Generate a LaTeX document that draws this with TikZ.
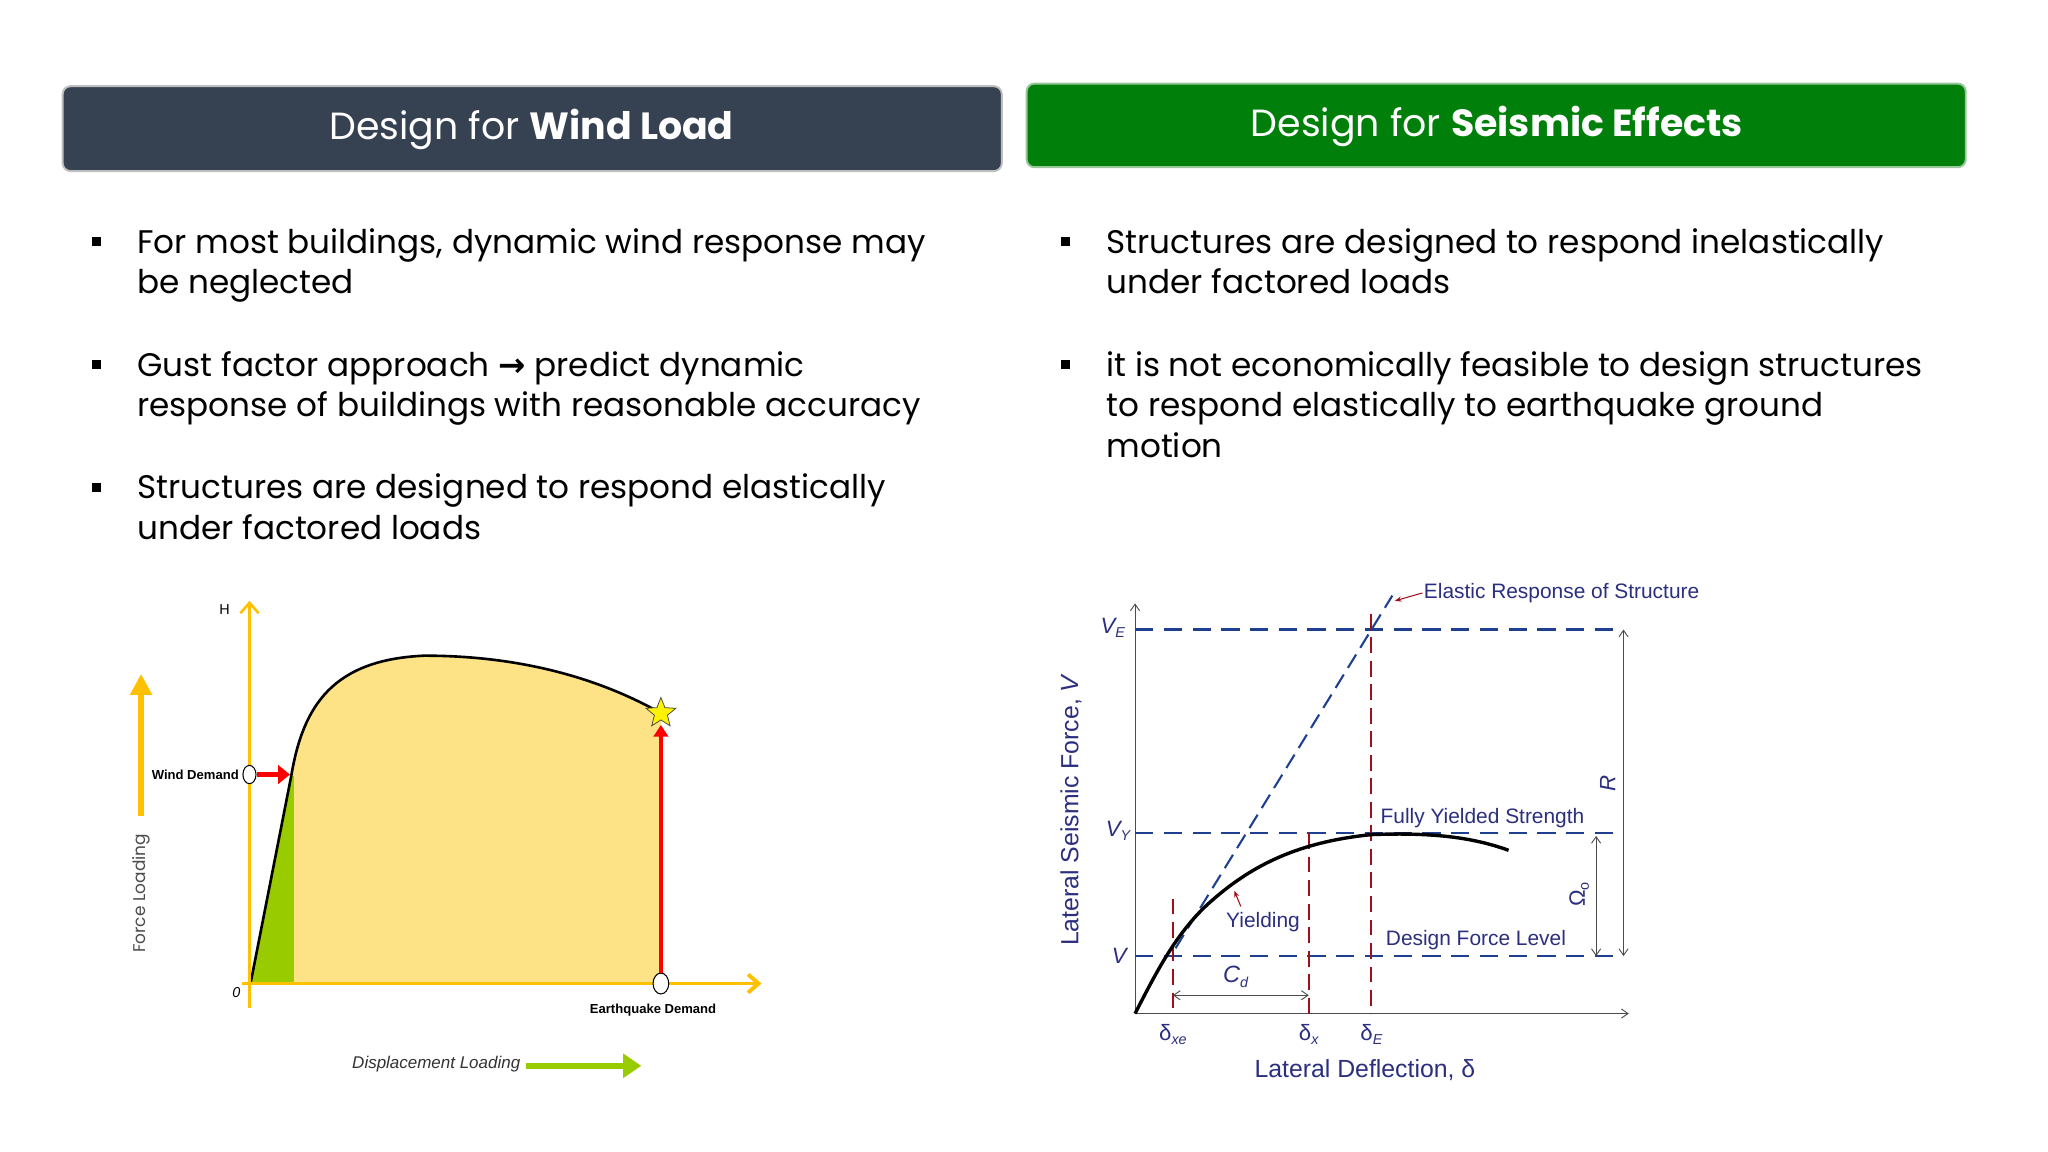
\documentclass[tikz,border=0pt]{standalone}
\usepackage{fontspec}
\setmainfont{Poppins}
\newfontfamily\arial{Liberation Sans}
\newfontfamily\djv{DejaVu Sans}
\usetikzlibrary{arrows.meta,shapes.geometric}
\definecolor{hdark}{HTML}{364152}
\definecolor{hgreen}{HTML}{00800A}
\definecolor{navy}{HTML}{2B2F7E}
\definecolor{dblue}{HTML}{1F3F8F}
\definecolor{dred}{HTML}{A0101A}
\definecolor{wyel}{HTML}{FDE286}
\definecolor{axyel}{HTML}{FFC000}
\definecolor{lgreen}{HTML}{99CC00}
\newcommand{\sbs}[1]{\raisebox{-0.35ex}{\fontsize{11}{12}\selectfont #1}}
\tikzset{
 hdr/.style={rounded corners=6pt,line width=1.5pt},
 btxt/.style={anchor=base west,inner sep=0pt,font=\fontsize{25}{30}\selectfont},
 bsq/.style={fill=black,minimum size=7pt,inner sep=0pt},
 vdash/.style={dblue,line width=1.8pt,dash pattern=on 14pt off 8pt},
 rdash/.style={dred,line width=1.5pt,dash pattern=on 12pt off 6pt},
 lab/.style={navy,font=\arial\fontsize{16}{18}\selectfont,inner sep=1pt},
 thin/.style={black!70,line width=0.7pt},
 small/.style={font=\arial\bfseries\fontsize{10}{12}\selectfont,inner sep=1pt}
}
\begin{document}
\begin{tikzpicture}[x=1pt,y=-1pt]
\useasboundingbox[fill=white] (0,0) rectangle (1568,882);
% headers
\draw[hdr,fill=hdark,draw=black!25] (48,66) rectangle (767,131);
\node[white,font=\fontsize{29}{36}\selectfont] (h1) at (407,99) {Design for \textbf{Wind Load}};
\draw[hdr,fill=hgreen,draw=green!45!black!40] (786,64) rectangle (1505,128);
\node[white,font=\fontsize{29}{36}\selectfont] (h2) at (1146,97) {Design for \textbf{Seismic Effects}};
% left bullets
\foreach \y in {185,279,373} \node[bsq] at (74,\y) {};
\node[btxt] at (105,194) {For most buildings, dynamic wind response may};
\node[btxt] at (105,225) {be neglected};
\node[btxt] at (105,288) {Gust factor approach {\djv\bfseries →} predict dynamic};
\node[btxt] at (105,319) {response of buildings with reasonable accuracy};
\node[btxt] at (105,382) {Structures are designed to respond elastically};
\node[btxt] at (105,413) {under factored loads};
% right bullets
\foreach \y in {185,279} \node[bsq] at (816,\y) {};
\node[btxt] at (847,194) {Structures are designed to respond inelastically};
\node[btxt] at (847,225) {under factored loads};
\node[btxt] at (847,288) {it is not economically feasible to design structures};
\node[btxt] at (847,319) {to respond elastically to earthquake ground};
\node[btxt] at (847,350) {motion};
% ---- left chart
\fill[wyel] (192,752) -- (223,594) .. controls (232,540) and (255,505) .. (325,502)
  .. controls (400,502) and (460,520) .. (506,546) -- (506,753) -- cycle;
\fill[lgreen] (192,752) -- (223,594) -- (225,594) -- (225,752) -- cycle;
\draw[black,line width=2pt] (192,752) -- (223,594) .. controls (232,540) and (255,505) .. (325,502)
  .. controls (400,502) and (460,520) .. (506,546);
\draw[axyel,line width=2pt,-{Straight Barb[length=8pt,width=14pt]}] (191,772) -- (191,460);
\draw[axyel,line width=3pt,-{Straight Barb[length=8pt,width=14pt]}] (185,753) -- (583,753);
\node[small,font=\arial\fontsize{11}{12}\selectfont] (H) at (172,467) {H};
\node[small,font=\arial\itshape\fontsize{11}{12}\selectfont] (zero) at (181,760) {0};
\node[draw=black,fill=white,ellipse,minimum width=10pt,minimum height=14pt,inner sep=0pt,line width=0.8pt] (wd) at (191,593) {};
\node[small,anchor=east] (wdl) at (184,593) {Wind Demand};
\coordinate (wdt) at (222,593);
\draw[red,line width=4pt,-{Triangle[length=9pt,width=14pt]}] (wd.east) -- (wdt);
\node[draw=black,fill=white,ellipse,minimum width=12pt,minimum height=16pt,inner sep=0pt,line width=0.8pt] (eq) at (506,753) {};
\node[small] (eql) at (500,773) {Earthquake Demand};
\node[star,star points=5,star point ratio=2.3,fill=yellow,draw=black!70,line width=0.6pt,minimum size=24pt,inner sep=0pt] (st) at (506,546) {};
\draw[red,line width=2.5pt,-{Triangle[length=9pt,width=11pt]}] (eq.north) -- (506,555);
\draw[axyel,line width=5pt,-{Triangle[length=16pt,width=16pt]}] (108,625) -- (108,516);
\node[black!70,rotate=90,font=\fontsize{13}{14}\selectfont] (fl) at (108,684) {Force Loading};
\node[black!80,font=\arial\itshape\fontsize{13}{15}\selectfont] (dl) at (334,815) {Displacement Loading};
\draw[lgreen,line width=5pt,-{Triangle[length=14pt,width=18pt]}] (403,816) -- (491,816);
% ---- right chart
\draw[thin,-{Straight Barb[length=5pt,width=7pt]}] (869,776) -- (869,462);
\draw[thin,-{Straight Barb[length=5pt,width=7pt]}] (869,776) -- (1247,776);
\draw[vdash] (869,482) -- (1242,482);
\draw[vdash] (869,638) -- (1242,638);
\draw[vdash] (869,732) -- (1242,732);
\draw[rdash] (898,688) -- (898,776);
\draw[rdash] (1002,638) -- (1002,776);
\draw[rdash] (1050,470) -- (1050,776);
\draw[dblue,line width=1.6pt,dash pattern=on 12pt off 6pt] (900,726) -- (1066,456);
\draw[black,line width=2.6pt] (869,776) .. controls (885,745) and (900,715) .. (925,692)
  .. controls (955,665) and (990,645) .. (1050,639) .. controls (1100,637) and (1130,642) .. (1155,651);
\node[lab,anchor=west] (erl) at (1089,454) {Elastic Response of Structure};
\draw[dred,line width=0.8pt,-{Stealth[length=5pt,width=4pt]}] (erl.west) -- (1068,460);
\node[lab] (yl) at (967,706) {Yielding};
\draw[dred,line width=0.8pt,-{Stealth[length=5pt,width=4pt]}] (950,694) -- (945,682);
\node[lab] (fys) at (1135,626) {Fully Yielded Strength};
\node[lab] (dfl) at (1130,720) {Design Force Level};
\node[lab,font=\arial\itshape\fontsize{17}{18}\selectfont] at (852,481) {V\sbs{E}};
\node[lab,font=\arial\itshape\fontsize{17}{18}\selectfont] at (856,636) {V\sbs{Y}};
\node[lab,font=\arial\itshape\fontsize{17}{18}\selectfont] at (857,732) {V};
\draw[thin,{Straight Barb[length=5pt,width=7pt]}-{Straight Barb[length=5pt,width=7pt]}] (898,762) -- (1002,762);
\node[lab,font=\arial\itshape\fontsize{18}{18}\selectfont] (cd) at (946,748) {C\sbs{d}};
\node[lab,font=\arial\fontsize{17}{18}\selectfont] at (898,792) {δ{\itshape\sbs{xe}}};
\node[lab,font=\arial\fontsize{17}{18}\selectfont] at (1002,792) {δ{\itshape\sbs{x}}};
\node[lab,font=\arial\fontsize{17}{18}\selectfont] at (1050,792) {δ{\itshape\sbs{E}}};
\node[lab,font=\arial\fontsize{19}{22}\selectfont] (xl) at (1045,819) {Lateral Deflection, δ};
\node[lab,rotate=90,font=\arial\fontsize{19}{22}\selectfont] (yl2) at (820,620) {Lateral Seismic Force, \textit{V}};
\draw[thin,{Straight Barb[length=5pt,width=7pt]}-{Straight Barb[length=5pt,width=7pt]}] (1243,482) -- (1243,732);
\node[lab,rotate=90,font=\arial\itshape\fontsize{17}{18}\selectfont] at (1231,600) {R};
\draw[thin,{Straight Barb[length=5pt,width=7pt]}-{Straight Barb[length=5pt,width=7pt]}] (1222,640) -- (1222,732);
\node[lab,rotate=90,font=\arial\fontsize{17}{18}\selectfont] at (1209,685) {Ω\sbs{o}};
\end{tikzpicture}
\end{document}
